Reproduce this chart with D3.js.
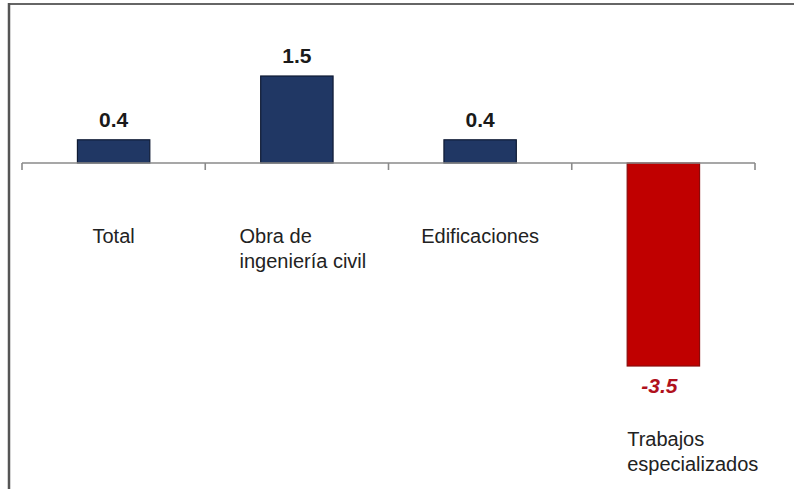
<!DOCTYPE html>
<html lang="es">
<head>
<meta charset="utf-8">
<script src="https://cdn.jsdelivr.net/npm/d3@7"></script>
<style>
  html, body { margin: 0; padding: 0; background: #fff; }
  svg { display: block; font-family: "Liberation Sans", Arial, sans-serif; }
</style>
</head>
<body>
<svg id="chart" width="794" height="489"></svg>
<script>
// Variación anual por tipo de obra (%)
const categories = ["Total", "Obra de ingeniería civil", "Edificaciones", "Trabajos especializados"];
const categoryLines = [["Total"], ["Obra de", "ingeniería civil"], ["Edificaciones"], ["Trabajos", "especializados"]];
const values = [0.4, 1.5, 0.4, -3.5];
const valueLabels = ["0.4", "1.5", "0.4", "-3.5"];

const svg = d3.select("#chart");
const W = 794, H = 489;

// Frame: top and left rules
svg.append("line").attr("x1", 8).attr("x2", W).attr("y1", 4).attr("y2", 4)
  .attr("stroke", "#666").attr("stroke-width", 2);
svg.append("line").attr("x1", 9).attr("x2", 9).attr("y1", 3).attr("y2", H)
  .attr("stroke", "#555").attr("stroke-width", 2.5);

const x = d3.scaleBand().domain(categories).range([22, 755]).padding(0);
const y = d3.scaleLinear().domain([-3.5, 1.5]).range([366, 76]);
const barW = x.bandwidth() * 0.395;
const y0 = y(0);

// Bars
svg.append("g").selectAll("rect").data(values).join("rect")
  .attr("x", (d, i) => x(categories[i]) + x.bandwidth() / 2 - barW / 2)
  .attr("y", d => y(Math.max(0, d)))
  .attr("width", barW)
  .attr("height", d => Math.abs(y(d) - y0))
  .attr("fill", d => d < 0 ? "#c00000" : "#203764")
  .attr("stroke", d => d < 0 ? "#8a0a0a" : "#0e1a33")
  .attr("stroke-width", 1.2);

// Category axis at zero with ticks on band boundaries
const axis = svg.append("g").attr("stroke", "#8a8a8a").attr("stroke-width", 1.6);
axis.append("line").attr("x1", x.range()[0]).attr("x2", x.range()[1])
  .attr("y1", y0).attr("y2", y0);
const tickXs = categories.map(c => x(c)).concat([x.range()[1]]);
axis.selectAll("line.tick").data(tickXs).join("line").attr("class", "tick")
  .attr("x1", d => d).attr("x2", d => d).attr("y1", y0).attr("y2", y0 + 7);

// Value labels
svg.append("g").selectAll("text").data(values).join("text")
  .attr("x", (d, i) => x(categories[i]) + x.bandwidth() / 2 - (d < 0 ? 4 : 0))
  .attr("y", d => d < 0 ? y(d) + 27 : y(d) - 13)
  .attr("text-anchor", "middle")
  .attr("font-size", 21)
  .attr("font-weight", "bold")
  .attr("font-style", d => d < 0 ? "italic" : "normal")
  .attr("fill", d => d < 0 ? "#b0101c" : "#1a1a1a")
  .text((d, i) => valueLabels[i]);

// Category labels below the lower end of each bar
const catG = svg.append("g").attr("font-size", 20).attr("fill", "#222");
categories.forEach((c, i) => {
  const v = values[i];
  const t = catG.append("text").attr("y", y(Math.min(0, v)) + 80);
  categoryLines[i].forEach((line, j) => {
    t.append("tspan").attr("x", 0).attr("dy", j === 0 ? 0 : 25).text(line);
  });
  const bb = t.node().getBBox();
  const cx = x(c) + x.bandwidth() / 2;
  const left = v < 0 ? cx - barW / 2 : cx - bb.width / 2 + (categoryLines[i].length > 1 ? 6 : 0);
  t.selectAll("tspan").attr("x", left);
});
</script>
</body>
</html>
